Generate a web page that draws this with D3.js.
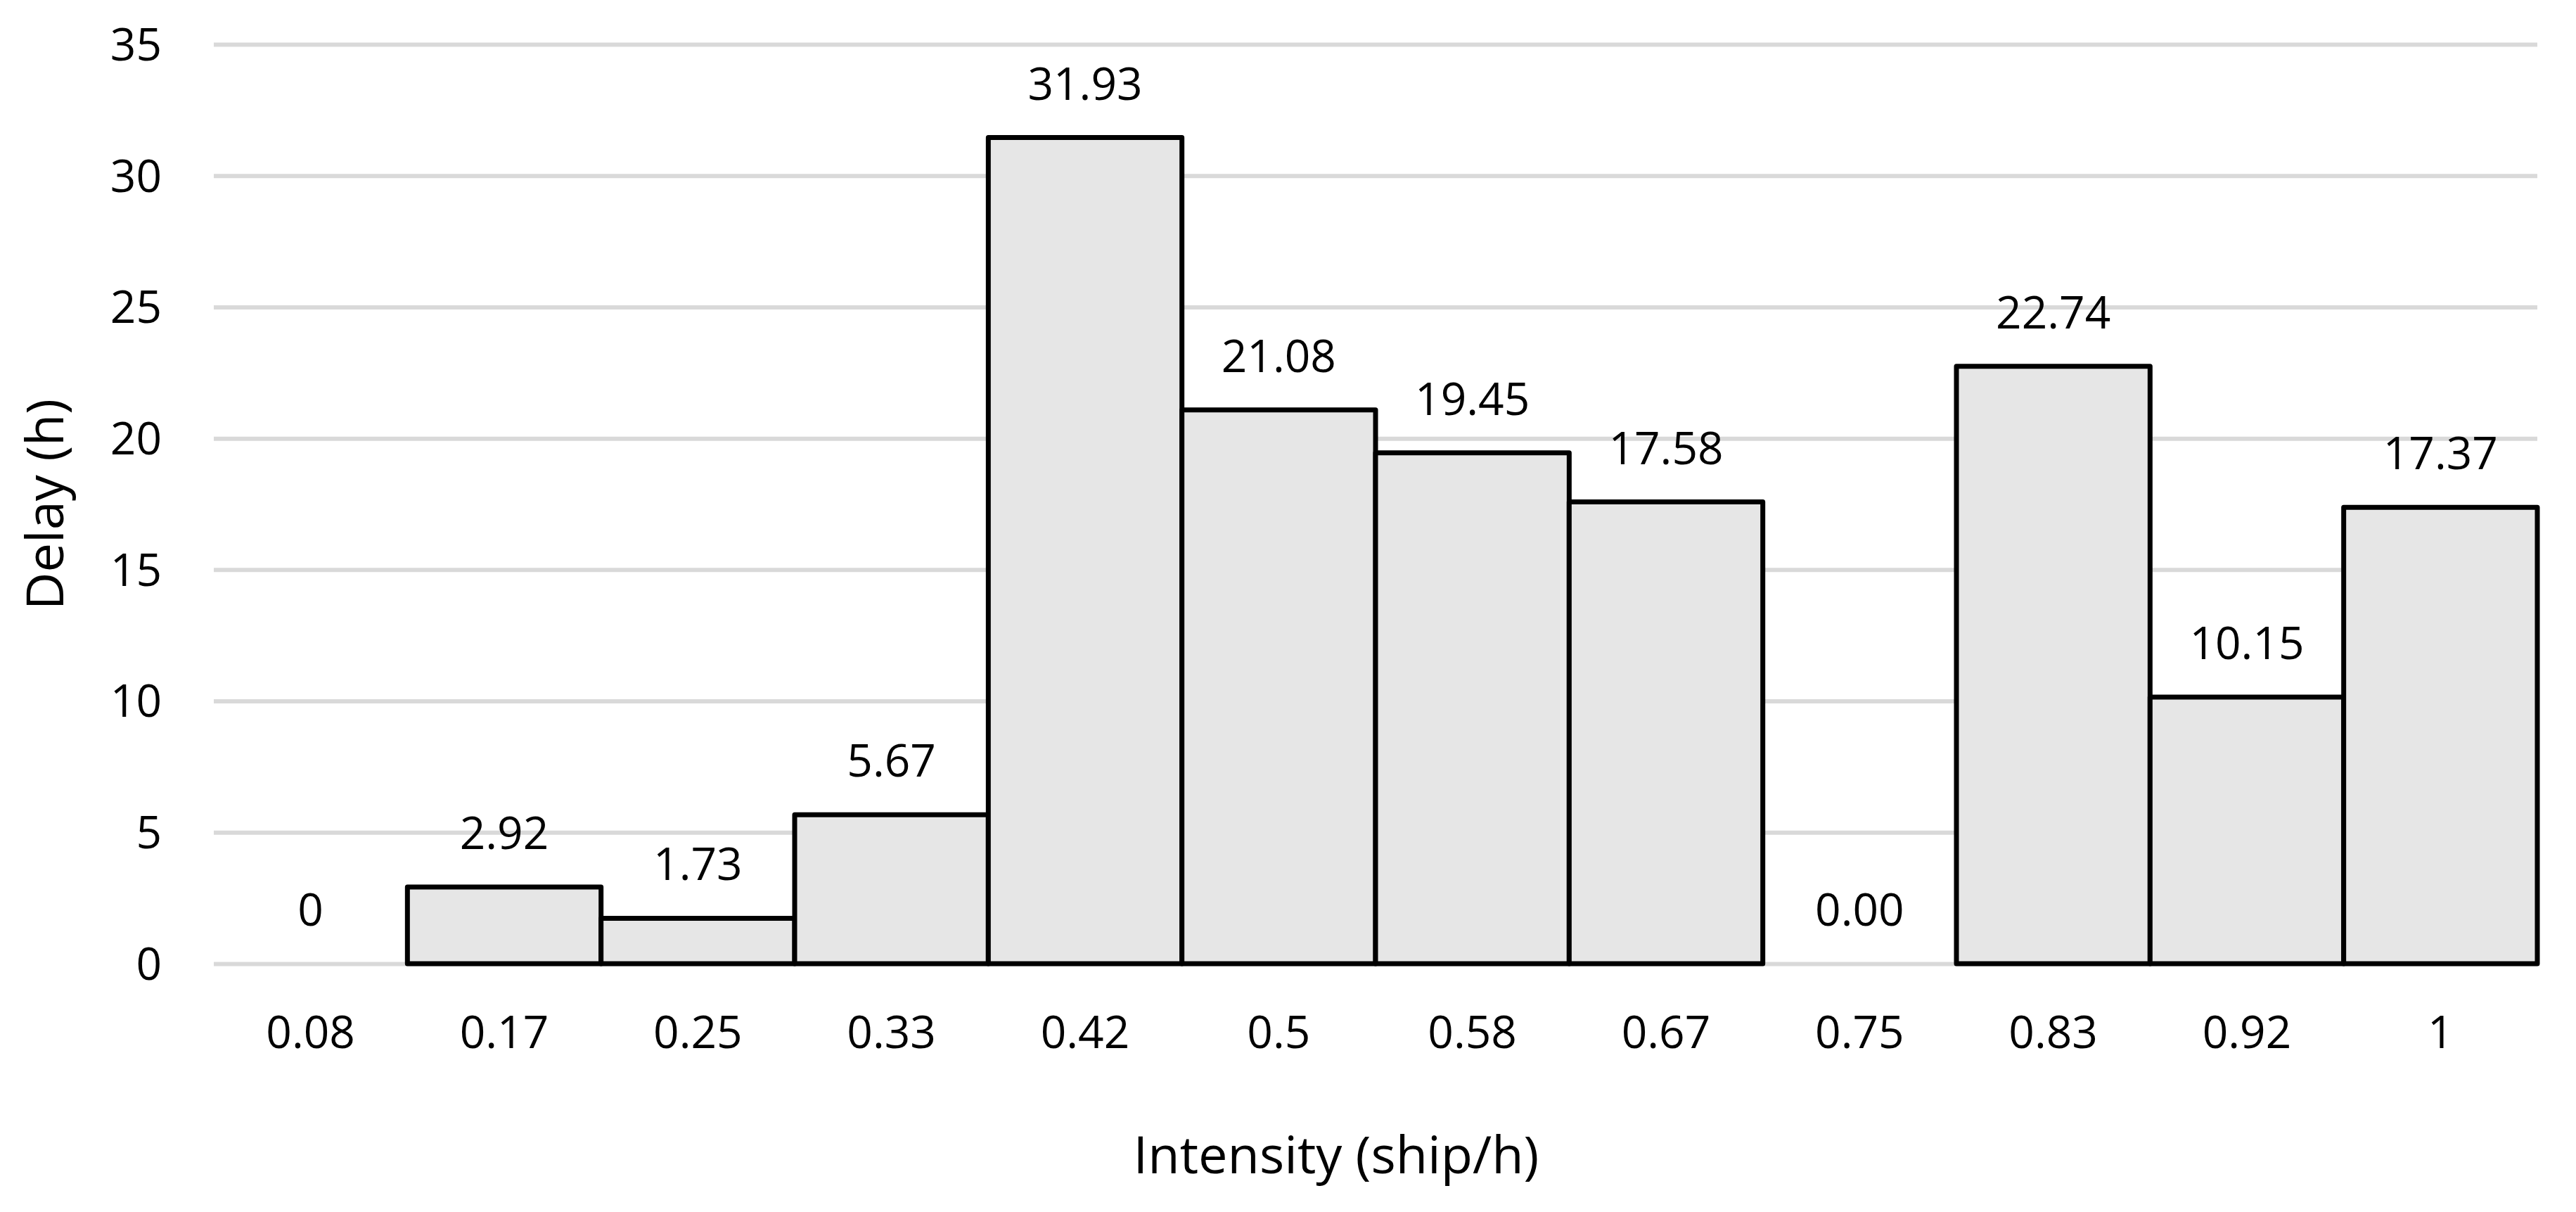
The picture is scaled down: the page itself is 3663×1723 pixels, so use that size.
<!DOCTYPE html>
<html>
<head>
<meta charset="utf-8">
<script src="https://cdn.jsdelivr.net/npm/d3@7"></script>
<style>
  html, body { margin: 0; padding: 0; background: #fff; }
  svg { display: block; }
  text { font-family: "Open Sans", sans-serif; fill: #000; }
</style>
</head>
<body>
<svg id="chart" width="3663" height="1723"></svg>
<script>
const categories = ["0.08", "0.17", "0.25", "0.33", "0.42", "0.5", "0.58", "0.67", "0.75", "0.83", "0.92", "1"];
const delays = [0, 2.92, 1.73, 5.67, 31.45, 21.08, 19.45, 17.58, 0, 22.74, 10.15, 17.37];
const dataLabels = ["0", "2.92", "1.73", "5.67", "31.93", "21.08", "19.45", "17.58", "0.00", "22.74", "10.15", "17.37"];
const yTicks = [0, 5, 10, 15, 20, 25, 30, 35];
const xTitle = "Intensity (ship/h)";
const yTitle = "Delay (h)";

(function () {
const svg = d3.select("#chart");
const mLeft = 304, mRight = 3608, mTop = 63, mBottom = 1370;

const x = d3.scaleBand().domain(categories).range([mLeft, mRight]).paddingInner(0).paddingOuter(0);
const y = d3.scaleLinear().domain([0, 35]).range([mBottom, mTop]);

// gridlines
const grid = svg.append("g")
  .attr("transform", `translate(${mLeft},0)`)
  .call(d3.axisLeft(y).tickValues(yTicks).tickSize(-(mRight - mLeft)).tickFormat(""));
grid.select(".domain").remove();
grid.selectAll(".tick line").attr("stroke", "#d9d9d9").attr("stroke-width", 6);

// y axis labels
const yAxis = svg.append("g")
  .attr("transform", `translate(230,0)`)
  .call(d3.axisLeft(y).tickValues(yTicks).tickSize(0).tickPadding(0).tickFormat(d3.format("d")));
yAxis.select(".domain").remove();
yAxis.selectAll(".tick text")
  .attr("x", 0).attr("dy", "0.35em")
  .style("font-size", "64px").attr("fill", "#000").attr("text-anchor", "end");

// bars
const data = categories.map((c, i) => ({ c, v: delays[i], label: dataLabels[i] }));
svg.append("g").selectAll("rect")
  .data(data.filter(d => d.v > 0))
  .join("rect")
  .attr("x", d => x(d.c))
  .attr("y", d => y(d.v))
  .attr("width", x.bandwidth())
  .attr("height", d => y(0) - y(d.v))
  .attr("fill", "#e6e6e6")
  .attr("stroke", "#000")
  .attr("stroke-width", 7)
  .attr("stroke-linejoin", "round");

// data labels
svg.append("g").selectAll("text")
  .data(data)
  .join("text")
  .attr("x", d => x(d.c) + x.bandwidth() / 2)
  .attr("y", d => y(d.v) - 54)
  .attr("text-anchor", "middle")
  .style("font-size", "64px")
  .text(d => d.label);

// x axis labels
const xAxis = svg.append("g")
  .attr("transform", `translate(0,1490)`)
  .call(d3.axisBottom(x).tickSize(0).tickPadding(0));
xAxis.select(".domain").remove();
xAxis.selectAll(".tick text")
  .attr("y", 0).attr("dy", 0)
  .style("font-size", "64px").attr("fill", "#000");

// axis titles
svg.append("text")
  .attr("x", 1900).attr("y", 1668)
  .attr("text-anchor", "middle")
  .style("font-size", "74px")
  .text(xTitle);

svg.append("text")
  .attr("transform", "translate(90,717) rotate(-90)")
  .attr("text-anchor", "middle")
  .style("font-size", "74px")
  .text(yTitle);
})();
</script>
</body>
</html>
